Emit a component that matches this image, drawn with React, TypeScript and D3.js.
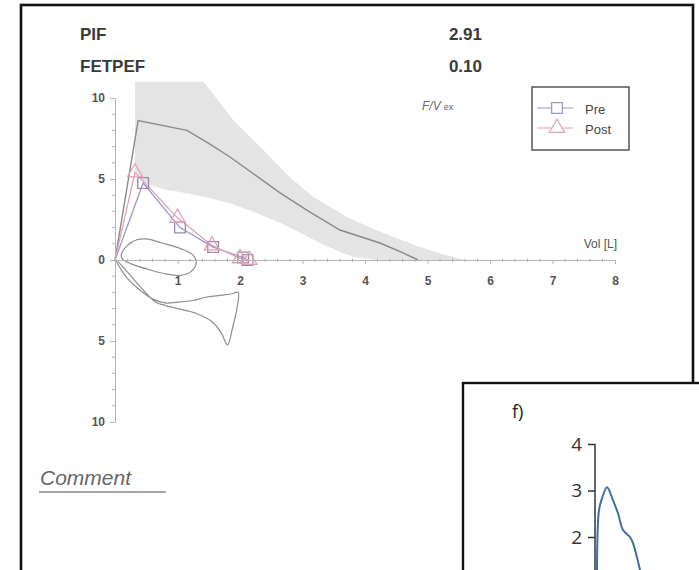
import React, { useEffect, useRef } from 'react';
import * as d3 from 'd3';

// flow-volume loop (expiration up, inspiration down), values in L and L/s
const xTickValues = [1, 2, 3, 4, 5, 6, 7, 8];
const yTickValues = [-10, -5, 0, 5, 10];

const bandUpper = [
  { v: 0.32, f: 12 }, { v: 1.2, f: 12 }, { v: 1.52, f: 10.5 }, { v: 1.9, f: 8.6 },
  { v: 2.37, f: 6.8 }, { v: 2.8, f: 5.1 }, { v: 3.17, f: 3.9 }, { v: 3.71, f: 2.65 },
  { v: 4.2, f: 1.8 }, { v: 4.77, f: 0.95 }, { v: 5.2, f: 0.4 }, { v: 5.6, f: 0 }
];
const bandLower = [
  { v: 0.32, f: 5.4 }, { v: 0.5, f: 4.7 }, { v: 0.8, f: 4.35 }, { v: 1.04, f: 4.2 },
  { v: 1.5, f: 3.85 }, { v: 1.84, f: 3.5 }, { v: 2.2, f: 3.0 }, { v: 2.64, f: 2.3 },
  { v: 3.0, f: 1.6 }, { v: 3.28, f: 1.05 }, { v: 3.6, f: 0.5 }, { v: 3.81, f: 0.2 },
  { v: 4.2, f: 0 }
];
const meanCurve = [
  { v: 0, f: 0 }, { v: 0.37, f: 8.6 }, { v: 1.15, f: 8.0 }, { v: 1.5, f: 7.2 },
  { v: 1.84, f: 6.36 }, { v: 2.64, f: 4.14 }, { v: 3.1, f: 3.0 }, { v: 3.6, f: 1.85 },
  { v: 4.24, f: 1.05 }, { v: 4.6, f: 0.45 }, { v: 4.85, f: 0 }
];
const preCurve = [
  { v: 0, f: 0 }, { v: 0.45, f: 4.75 }, { v: 1.04, f: 2.0 }, { v: 1.57, f: 0.8 },
  { v: 2.05, f: 0.15 }, { v: 2.12, f: 0 }
];
const postCurve = [
  { v: 0, f: 0 }, { v: 0.32, f: 5.4 }, { v: 1.0, f: 2.6 }, { v: 1.55, f: 0.9 },
  { v: 2.0, f: 0.1 }, { v: 2.15, f: 0 }
];
const innerLoop = [
  { v: 0.1, f: 0.3 }, { v: 0.2, f: 0.9 }, { v: 0.35, f: 1.25 }, { v: 0.5, f: 1.3 },
  { v: 0.75, f: 1.05 }, { v: 1.05, f: 0.7 }, { v: 1.25, f: 0.3 }, { v: 1.3, f: -0.2 },
  { v: 1.22, f: -0.7 }, { v: 1.05, f: -0.95 }, { v: 0.8, f: -0.85 }, { v: 0.55, f: -0.6 },
  { v: 0.3, f: -0.3 }, { v: 0.12, f: 0.05 }
];
const outerLoop = [
  { v: 0.02, f: 0 }, { v: 0.15, f: -0.9 }, { v: 0.35, f: -1.7 }, { v: 0.6, f: -2.4 },
  { v: 0.8, f: -2.65 }, { v: 1.0, f: -2.6 }, { v: 1.25, f: -2.5 }, { v: 1.45, f: -2.3 },
  { v: 1.65, f: -2.2 }, { v: 1.85, f: -2.1 }, { v: 1.97, f: -2.0 }, { v: 1.95, f: -3.0 },
  { v: 1.88, f: -4.2 }, { v: 1.8, f: -5.25 }, { v: 1.7, f: -4.5 }, { v: 1.55, f: -3.8 },
  { v: 1.3, f: -3.3 }, { v: 1.0, f: -3.0 }, { v: 0.8, f: -2.8 }, { v: 0.65, f: -2.6 }
];

const headerLabels = ['PIF', 'FETPEF'];
const headerValues = ['2.91', '0.10'];
const legendNames = ['Pre', 'Post'];

// inset panel f)
const insetTicks = [2, 3, 4];
const insetTime = [0.04, 0.08, 0.14, 0.24, 0.36, 0.46, 0.56, 0.7, 0.76, 0.9];
const insetFlow = [1.29, 2.58, 2.83, 3.07, 2.79, 2.51, 2.15, 2.0, 1.87, 1.29];

const App = () => {
  const svgRef = useRef(null);

  useEffect(() => {
    const width = 699;
    const height = 570;
    const svg = d3.select(svgRef.current);
    svg.selectAll('*').remove();
    svg.attr('width', width).attr('height', height);

    const font = 'Liberation Sans, Arial, sans-serif';
    const preColor = '#9d96c8';
    const postColor = '#e0a2b4';

    svg.append('rect').attr('width', width).attr('height', height).attr('fill', '#fff');

    // outer frame
    svg.append('rect')
      .attr('x', 21).attr('y', 5).attr('width', 672).attr('height', 600)
      .attr('fill', 'none').attr('stroke', '#111').attr('stroke-width', 2.6);

    const x = d3.scaleLinear().domain([0, 8]).range([115, 615]);
    const y = d3.scaleLinear().domain([-10, 10]).range([422, 98]);

    svg.append('clipPath').attr('id', 'plotClip')
      .append('rect').attr('x', 0).attr('y', y(11)).attr('width', width).attr('height', 500);

    const line = d3.line().x(d => x(d.v)).y(d => y(d.f));
    const plot = svg.append('g').attr('clip-path', 'url(#plotClip)');

    // predicted band
    plot.append('path')
      .attr('d', line(bandUpper.concat(bandLower.slice().reverse())) + 'Z')
      .attr('fill', '#e4e4e4');

    // axes
    const axisColor = '#b5b5b5';
    const yAxis = svg.append('g')
      .attr('transform', `translate(${x(0)},0)`)
      .call(d3.axisLeft(y).tickValues(yTickValues).tickSize(5).tickSizeOuter(0).tickPadding(5)
        .tickFormat(d => String(Math.abs(d))));
    yAxis.selectAll('line').attr('stroke', axisColor);
    yAxis.select('.domain').attr('stroke', axisColor);
    yAxis.selectAll('text').attr('font-family', font).attr('font-size', 12).attr('font-weight', 'bold').attr('fill', '#555');
    svg.append('g').selectAll('line')
      .data(d3.range(-10, 11, 1).filter(d => d % 5 !== 0))
      .enter().append('line')
      .attr('x1', x(0) - 3).attr('x2', x(0)).attr('y1', d => y(d)).attr('y2', d => y(d))
      .attr('stroke', axisColor);

    const xAxis = svg.append('g')
      .attr('transform', `translate(0,${y(0)})`)
      .call(d3.axisBottom(x).tickValues(xTickValues).tickSize(4).tickSizeOuter(0).tickPadding(12)
        .tickFormat(d3.format('d')));
    xAxis.selectAll('line').attr('stroke', axisColor);
    xAxis.select('.domain').attr('stroke', axisColor);
    xAxis.selectAll('text').attr('font-family', font).attr('font-size', 12).attr('font-weight', 'bold').attr('fill', '#555');
    svg.append('g').selectAll('line')
      .data(d3.range(0.2, 8, 0.2).filter(d => Math.abs(d - Math.round(d)) > 0.01))
      .enter().append('line')
      .attr('x1', d => x(d)).attr('x2', d => x(d))
      .attr('y1', y(0) - 1.5).attr('y2', y(0) + 2)
      .attr('stroke', axisColor);

    // mean predicted curve
    plot.append('path').attr('d', line(meanCurve))
      .attr('fill', 'none').attr('stroke', '#8a8a8a').attr('stroke-width', 1.4);

    // inspiratory loops
    [innerLoop, outerLoop].forEach(loop => {
      plot.append('path').attr('d', d3.line().x(d => x(d.v)).y(d => y(d.f)).curve(d3.curveCatmullRomClosed)(loop))
        .attr('fill', 'none').attr('stroke', '#8e8e8e').attr('stroke-width', 1.2);
    });

    // Pre / Post curves
    plot.append('path').attr('d', line(preCurve))
      .attr('fill', 'none').attr('stroke', preColor).attr('stroke-width', 1.3);
    plot.append('path').attr('d', line(postCurve))
      .attr('fill', 'none').attr('stroke', postColor).attr('stroke-width', 1.3);

    const square = d3.symbol().type(d3.symbolSquare).size(115);
    const triangle = d3.symbol().type(d3.symbolTriangle).size(100);
    plot.selectAll('.pre-pt').data(preCurve.slice(1)).enter().append('path')
      .attr('transform', d => `translate(${x(d.v)},${y(d.f)})`)
      .attr('d', square()).attr('fill', 'none').attr('stroke', '#9a8aa8').attr('stroke-width', 1.3);
    plot.selectAll('.post-pt').data(postCurve.slice(1)).enter().append('path')
      .attr('transform', d => `translate(${x(d.v)},${y(d.f)})`)
      .attr('d', triangle()).attr('fill', 'none').attr('stroke', postColor).attr('stroke-width', 1.3);

    // axis title
    svg.append('text').attr('x', 617).attr('y', 248).attr('text-anchor', 'end')
      .attr('font-family', font).attr('font-size', 12).attr('fill', '#555').text('Vol [L]');
    const fv = svg.append('text').attr('x', 422).attr('y', 110)
      .attr('font-family', font).attr('fill', '#666');
    fv.append('tspan').attr('font-size', 12).attr('font-style', 'italic').text('F/V');
    fv.append('tspan').attr('font-size', 9).attr('dx', 3).text('ex');

    // header values
    headerLabels.forEach((t, i) => {
      svg.append('text').attr('x', 80).attr('y', 40 + i * 32)
        .attr('font-family', font).attr('font-size', 17).attr('font-weight', 'bold')
        .attr('fill', '#3a3a3a').text(t);
      svg.append('text').attr('x', 482).attr('y', 40 + i * 32).attr('text-anchor', 'end')
        .attr('font-family', font).attr('font-size', 17).attr('font-weight', 'bold')
        .attr('fill', '#3a3a3a').text(headerValues[i]);
    });

    // legend
    const legend = svg.append('g').attr('transform', 'translate(532,87)');
    legend.append('rect').attr('width', 97).attr('height', 63)
      .attr('fill', '#fff').attr('stroke', '#555').attr('stroke-width', 1.5);
    legendNames.forEach((name, i) => {
      const ly = 21 + i * 20;
      const c = i === 0 ? preColor : postColor;
      legend.append('line').attr('x1', 5).attr('x2', 41).attr('y1', ly).attr('y2', ly)
        .attr('stroke', c).attr('stroke-width', 1.2);
      legend.append('path').attr('transform', `translate(25,${ly})`)
        .attr('d', (i === 0 ? square : triangle)()).attr('fill', '#fff')
        .attr('stroke', c).attr('stroke-width', 1.2);
      legend.append('text').attr('x', 53).attr('y', ly + 6)
        .attr('font-family', font).attr('font-size', 13).attr('fill', '#444').text(name);
    });

    // comment
    svg.append('text').attr('x', 40).attr('y', 485)
      .attr('font-family', font).attr('font-size', 21).attr('font-style', 'italic')
      .attr('fill', '#666').text('Comment');
    svg.append('line').attr('x1', 39).attr('x2', 166).attr('y1', 492).attr('y2', 492)
      .attr('stroke', '#888').attr('stroke-width', 1.3);

    // inset panel f)
    svg.append('rect').attr('x', 463).attr('y', 383).attr('width', 300).attr('height', 300)
      .attr('fill', '#fff').attr('stroke', '#111').attr('stroke-width', 2.4);
    svg.append('text').attr('x', 512).attr('y', 418)
      .attr('font-family', 'Open Sans, Noto Sans, sans-serif').attr('font-size', 18).attr('fill', '#222').text('f)');
    const iy = d3.scaleLinear().domain([2, 4]).range([537, 444]);
    const ix = d3.scaleLinear().domain([0, 1]).range([595, 645]);
    const insetAxis = svg.append('g').attr('transform', 'translate(595,0)')
      .call(d3.axisLeft(iy).tickValues(insetTicks).tickSize(7).tickSizeOuter(0).tickPadding(6)
        .tickFormat(d3.format('d')));
    insetAxis.select('.domain').remove();
    insetAxis.selectAll('line').attr('stroke', '#333').attr('stroke-width', 1.5);
    insetAxis.selectAll('text').attr('font-family', 'Open Sans, Noto Sans, sans-serif')
      .attr('font-size', 19).attr('fill', '#333');
    svg.append('line').attr('x1', 595).attr('x2', 595).attr('y1', iy(4)).attr('y2', height)
      .attr('stroke', '#333').attr('stroke-width', 1.5);
    const insetData = insetTime.map((t, i) => ({ t, f: insetFlow[i] }));
    svg.append('path')
      .attr('d', d3.line().x(d => ix(d.t)).y(d => iy(d.f)).curve(d3.curveCatmullRom)(insetData))
      .attr('fill', 'none').attr('stroke', '#3c6fa6').attr('stroke-width', 2);
  }, []);

  return (
    <svg ref={svgRef} style={{ position: 'absolute', left: 0, top: 0, display: 'block' }}></svg>
  );
};

export default App;
